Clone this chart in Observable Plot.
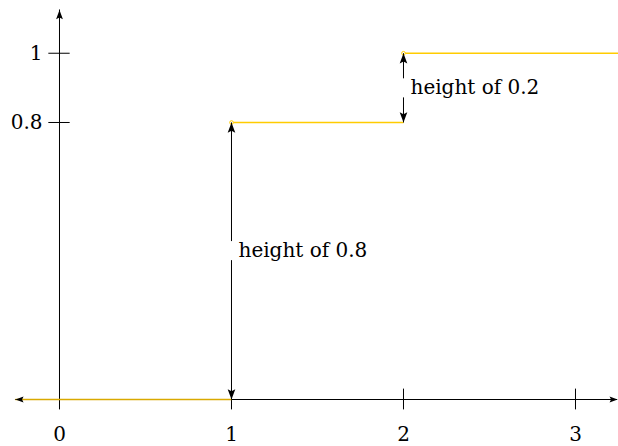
<!DOCTYPE html>
<html>
<head>
<meta charset="utf-8">
<script src="https://cdn.jsdelivr.net/npm/d3@7"></script>
<script src="https://cdn.jsdelivr.net/npm/@observablehq/plot@0.6"></script>
<style>
  html, body { margin: 0; padding: 0; background: #fff; }
  #chart svg { display: block; }
  #chart svg text { font-family: "DejaVu Serif", "Liberation Serif", serif !important; }
</style>
</head>
<body>
<div id="chart"></div>
<script>
// Step function: jumps at x = 1 (by 0.8) and x = 2 (by 0.2)
const jumpX = [1, 2];
const levels = [0, 0.8, 1];
const jumpLabels = ["height of 0.8", "height of 0.2"];
const jumpLabelY = [0.43, 0.9];
const xTicks = [1, 2, 3];
const xTickLabels = ["0", "1", "2", "3"];
const xTickLabelAt = [0, 1, 2, 3];
const yTicks = [0.8, 1];
const yTickLabels = ["0.8", "1"];

// axis extents (data units)
const xAxisFrom = -0.256, xAxisTo = 3.245;
const yAxisFrom = -0.03, yAxisTo = 1.125;
const xDomain = [-0.343, 3.25];
const yDomain = [-0.1357, 1.1523];

const tickHalfX = 0.03;   // half length of x-axis ticks (y units)
const tickHalfY = 0.062;  // half length of y-axis ticks (x units)
const gapHalf = 0.0275;   // half height of the break around each label

// horizontal pieces of the step function
const segments = levels.map((y, i) => ({
  x1: i === 0 ? xAxisFrom : jumpX[i - 1],
  x2: i < jumpX.length ? jumpX[i] : xDomain[1],
  y,
  color: i === 0 ? "#d9a900" : "#ffcc00"
}));

// vertical measuring arrows for each jump
const jumps = jumpX.map((x, i) => ({
  x, y0: levels[i], y1: levels[i + 1], label: jumpLabels[i], ly: jumpLabelY[i]
}));
const arrowLines = jumps.flatMap(d => [
  {x: d.x, y1: d.y0, y2: d.ly - gapHalf},
  {x: d.x, y1: d.ly + gapHalf, y2: d.y1}
]);

// LaTeX-like arrow tip, pointing up, tip at the origin
const arrowHead = {
  draw(ctx, size) {
    const r = Math.sqrt(size / Math.PI);
    ctx.moveTo(0, 0);
    ctx.lineTo(-r, 2.7 * r);
    ctx.lineTo(0, 2.2 * r);
    ctx.lineTo(r, 2.7 * r);
    ctx.closePath();
  }
};

const heads = [
  {x: 0, y: yAxisTo, rotate: 0, r: 3.4},
  {x: xAxisTo, y: 0, rotate: 90, r: 3},
  {x: xAxisFrom, y: 0, rotate: 270, r: 3},
  ...jumps.flatMap(d => [
    {x: d.x, y: d.y1, rotate: 0, r: 3.8},
    {x: d.x, y: d.y0, rotate: 180, r: 3.8}
  ])
];

const font = "DejaVu Serif";

const chart = Plot.plot({
  width: 618,
  height: 446,
  margin: 0,
  style: {fontFamily: font},
  x: {domain: xDomain, axis: null},
  y: {domain: yDomain, axis: null},
  r: {type: "identity"},
  marks: [
    // axes
    Plot.ruleY([0], {x1: xAxisFrom, x2: xAxisTo, stroke: "black", strokeWidth: 1}),
    Plot.ruleX([0], {y1: yAxisFrom, y2: yAxisTo, stroke: "black", strokeWidth: 1}),
    Plot.ruleX(xTicks, {y1: -tickHalfX, y2: tickHalfX, stroke: "black", strokeWidth: 1}),
    Plot.ruleY(yTicks, {x1: -tickHalfY, x2: tickHalfY, stroke: "black", strokeWidth: 1}),
    Plot.text(xTickLabels, {
      x: (d, i) => xTickLabelAt[i], y: 0, text: d => d, dy: 35,
      fontFamily: font, fontSize: 20, fill: "black"
    }),
    Plot.text(yTickLabels, {
      x: 0, y: (d, i) => yTicks[i], text: d => d, dx: -17, textAnchor: "end",
      fontFamily: font, fontSize: 20, fill: "black"
    }),
    // step function
    Plot.link(segments, {
      x1: "x1", x2: "x2", y1: "y", y2: "y", stroke: "color", strokeWidth: 1.5
    }),
    Plot.dot(segments.slice(1), {
      x: "x1", y: "y", r: 1.8, stroke: "#ffcc00", strokeWidth: 1, fill: "white"
    }),
    // jump arrows and labels
    Plot.link(arrowLines, {
      x1: "x", x2: "x", y1: "y1", y2: "y2", stroke: "black", strokeWidth: 1
    }),
    Plot.text(jumps, {
      x: "x", y: "ly", text: "label", dx: 7, textAnchor: "start",
      fontFamily: font, fontSize: 20, fill: "black"
    }),
    Plot.dot(heads, {
      x: "x", y: "y", rotate: "rotate", symbol: arrowHead, r: "r",
      fill: "black", stroke: "none"
    })
  ]
});

document.getElementById("chart").append(chart);
</script>
</body>
</html>
